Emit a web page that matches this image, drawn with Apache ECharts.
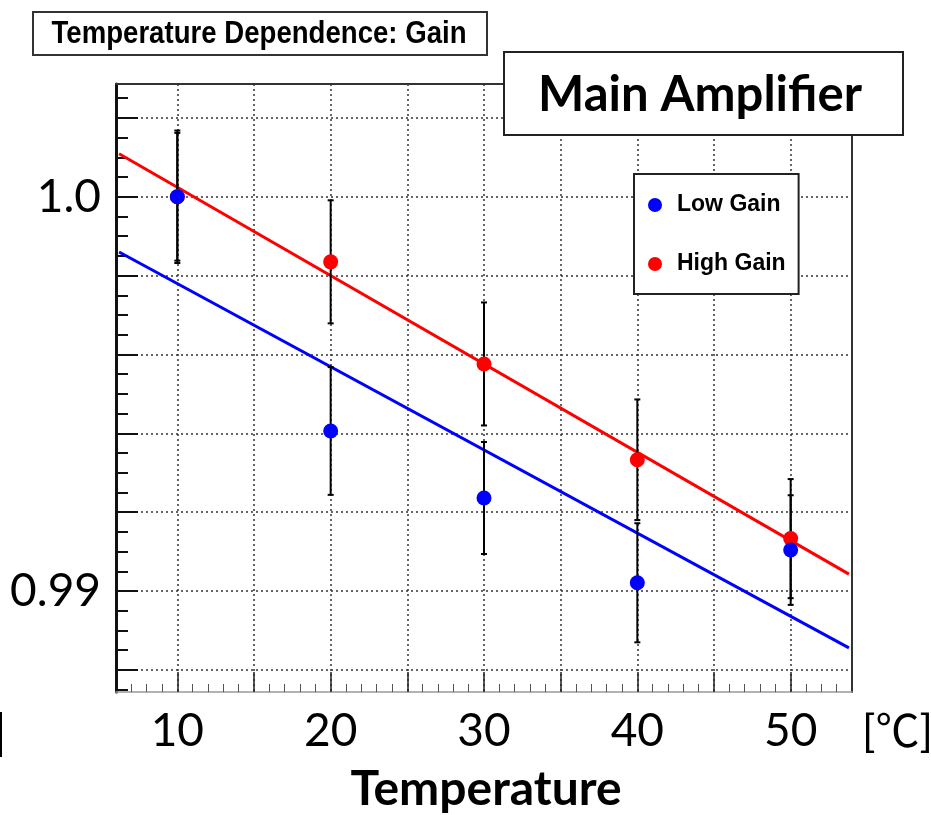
<!DOCTYPE html>
<html>
<head>
<meta charset="utf-8">
<script src="https://cdn.jsdelivr.net/npm/echarts@6/dist/echarts.min.js"></script>
<style>
html, body { margin: 0; padding: 0; background: #ffffff; }
#box { width: 931px; height: 815px; }
</style>
</head>
<body>
<div id="box"></div>
<script>
// data
const temps = [10, 20, 30, 40, 50]
const lowGain = [1.0, 0.99406, 0.99236, 0.99021, 0.99104]
const lowGainErr = [0.00162, 0.00162, 0.00142, 0.00151, 0.00139]
const highGain = [1.0, 0.99835, 0.99576, 0.99333, 0.99133]
const highGainErr = [0.00168, 0.00156, 0.00156, 0.00153, 0.00151]
// fitted lines, end points
const fitX = [6.2, 53.8]
const lowFit = [0.9986, 0.98856]
const highFit = [1.00109, 0.99043]

// ticks
const xMajor = [10, 15, 20, 25, 30, 35, 40, 45, 50]
const xMinor = [7, 8, 9, 11, 12, 13, 14, 16, 17, 18, 19, 21, 22, 23, 24, 26, 27, 28, 29,
	31, 32, 33, 34, 36, 37, 38, 39, 41, 42, 43, 44, 46, 47, 48, 49, 51, 52, 53]
const xLabelValues = [10, 20, 30, 40, 50]
const yMajor = [0.988, 0.99, 0.992, 0.994, 0.996, 0.998, 1.0, 1.002]
const yMinor = [0.9875, 0.9885, 0.989, 0.9895, 0.9905, 0.991, 0.9915, 0.9925, 0.993, 0.9935,
	0.9945, 0.995, 0.9955, 0.9965, 0.997, 0.9975, 0.9985, 0.999, 0.9995, 1.0005, 1.001, 1.0015, 1.0025]
const yLabelValues = [0.99, 1.0]
const yLabels = ["0.99", "1.0"]

const labelFont = "Lato, 'Open Sans', sans-serif"

let myCharts = echarts.init(document.getElementById("box"))

function errorBars(vals, errs) {
	return temps.map((t, i) => [t, vals[i], errs[i]])
}

function renderErr(params, api) {
	let x = api.value(0)
	let y = api.value(1)
	let e = api.value(2)
	let lo = api.coord([x, y - e])
	let hi = api.coord([x, y + e])
	let st = { stroke: "#000", lineWidth: 2 }
	return {
		type: "group",
		children: [
			{ type: "line", shape: { x1: lo[0], y1: lo[1], x2: hi[0], y2: hi[1] }, style: st },
			{ type: "line", shape: { x1: lo[0] - 3, y1: lo[1], x2: lo[0] + 3, y2: lo[1] }, style: st },
			{ type: "line", shape: { x1: hi[0] - 3, y1: hi[1], x2: hi[0] + 3, y2: hi[1] }, style: st },
		],
	}
}

let option = {
	animation: false,
	grid: { left: 116, right: 79, top: 84, bottom: 123, show: false },
	legend: {
		data: ["Low Gain", "High Gain"],
		orient: "vertical",
		left: 634,
		top: 174,
		backgroundColor: "#ffffff",
		borderColor: "#222",
		borderWidth: 2,
		padding: [19, 13, 18, 14],
		itemGap: 35,
		itemWidth: 14,
		itemHeight: 15,
		icon: "circle",
		selectedMode: false,
		textStyle: {
			fontFamily: "'Liberation Sans', Arial, sans-serif",
			fontWeight: "bold",
			fontSize: 23,
			color: "#000",
			lineHeight: 24,
			padding: [0, 0, 0, 10],
		},
	},
	xAxis: [
		{
			type: "value",
			min: 6,
			max: 54,
			position: "bottom",
			axisLine: { show: true, lineStyle: { color: "#999", width: 1.5 } },
			axisTick: { show: true, inside: true, length: 20, customValues: xMajor, lineStyle: { color: "#222", width: 1.5 } },
			axisLabel: {
				show: true,
				customValues: xLabelValues,
				margin: 16,
				fontFamily: labelFont,
				fontSize: 46,
				color: "#000",
			},
			splitLine: { show: true, lineStyle: { color: "#333", width: 1.5, type: [2, 3] } },
		},
		{
			type: "value",
			min: 6,
			max: 54,
			position: "bottom",
			axisLine: { show: false },
			axisTick: { show: true, inside: true, length: 8, customValues: xMinor, lineStyle: { color: "#555", width: 1 } },
			axisLabel: { show: false },
			splitLine: { show: false },
		},
		{
			type: "value",
			min: 6,
			max: 54,
			position: "top",
			axisLine: { show: true, lineStyle: { color: "#333", width: 2 } },
			axisTick: { show: false },
			axisLabel: { show: false },
			splitLine: { show: false },
		},
	],
	yAxis: [
		{
			type: "value",
			min: 0.98744,
			max: 1.00286,
			position: "left",
			axisLine: { show: true, lineStyle: { color: "#111", width: 3 } },
			axisTick: { show: true, inside: true, length: 22, customValues: yMajor, lineStyle: { color: "#111", width: 2 } },
			axisLabel: {
				show: true,
				customValues: yLabelValues,
				margin: 15,
				fontFamily: labelFont,
				fontSize: 46,
				color: "#000",
				formatter: function(v) {
					let i = yLabelValues.findIndex((_) => Math.abs(_ - v) < 1e-9)
					return i >= 0 ? yLabels[i] : ""
				},
			},
			splitLine: { show: true, lineStyle: { color: "#333", width: 1.5, type: [2, 3] } },
		},
		{
			type: "value",
			min: 0.98744,
			max: 1.00286,
			position: "left",
			axisLine: { show: false },
			axisTick: { show: true, inside: true, length: 12, customValues: yMinor, lineStyle: { color: "#111", width: 2 } },
			axisLabel: { show: false },
			splitLine: { show: false },
		},
		{
			type: "value",
			min: 0.98744,
			max: 1.00286,
			position: "right",
			axisLine: { show: true, lineStyle: { color: "#333", width: 2 } },
			axisTick: { show: false },
			axisLabel: { show: false },
			splitLine: { show: false },
		},
	],
	series: [
		{
			name: "High Gain fit",
			type: "line",
			data: fitX.map((x, i) => [x, highFit[i]]),
			showSymbol: false,
			lineStyle: { color: "#ff0000", width: 3 },
			z: 3,
			silent: true,
		},
		{
			name: "Low Gain fit",
			type: "line",
			data: fitX.map((x, i) => [x, lowFit[i]]),
			showSymbol: false,
			lineStyle: { color: "#0000ff", width: 3 },
			z: 3,
			silent: true,
		},
		{
			type: "custom",
			renderItem: renderErr,
			data: errorBars(highGain, highGainErr),
			z: 4,
			silent: true,
		},
		{
			type: "custom",
			renderItem: renderErr,
			data: errorBars(lowGain, lowGainErr),
			z: 4,
			silent: true,
		},
		{
			name: "High Gain",
			type: "scatter",
			data: temps.map((t, i) => [t, highGain[i]]),
			symbolSize: 15,
			itemStyle: { color: "#ff0000", opacity: 1 },
			z: 5,
		},
		{
			name: "Low Gain",
			type: "scatter",
			data: temps.map((t, i) => [t, lowGain[i]]),
			symbolSize: 15,
			itemStyle: { color: "#0000ff", opacity: 1 },
			z: 5,
		},
	],
	graphic: [
		{
			type: "rect",
			shape: { x: 33, y: 12, width: 454, height: 43 },
			style: { fill: "#fff", stroke: "#333", lineWidth: 2 },
			z: 100,
		},
		{
			type: "text",
			x: 259,
			y: 34,
			scaleX: 0.89,
			style: {
				text: "Temperature Dependence: Gain",
				fontFamily: "'Liberation Sans', Arial, sans-serif",
				fontWeight: "bold",
				fontSize: 31,
				fill: "#000",
				align: "center",
				verticalAlign: "middle",
			},
			z: 101,
		},
		{
			type: "rect",
			shape: { x: 504, y: 52, width: 399, height: 83 },
			style: { fill: "#fff", stroke: "#222", lineWidth: 2 },
			z: 100,
		},
		{
			type: "text",
			x: 700,
			y: 95,
			style: {
				text: "Main Amplifier",
				fontFamily: labelFont,
				fontWeight: "bold",
				fontSize: 49,
				fill: "#000",
				align: "center",
				verticalAlign: "middle",
			},
			z: 101,
		},
		{
			type: "text",
			x: 862,
			y: 733,
			style: {
				text: "[\u2103]",
				fontFamily: "Lato, 'Noto Sans CJK JP', sans-serif",
				fontSize: 44,
				fill: "#000",
				align: "left",
				verticalAlign: "middle",
			},
			z: 101,
		},
		{
			type: "text",
			x: 486,
			y: 790,
			style: {
				text: "Temperature",
				fontFamily: labelFont,
				fontWeight: "bold",
				fontSize: 48,
				fill: "#000",
				align: "center",
				verticalAlign: "middle",
			},
			z: 101,
		},
		{
			type: "rect",
			shape: { x: 0, y: 712, width: 2, height: 45 },
			style: { fill: "#000" },
			z: 101,
		},
	],
}
myCharts.setOption(option)
</script>
</body>
</html>
